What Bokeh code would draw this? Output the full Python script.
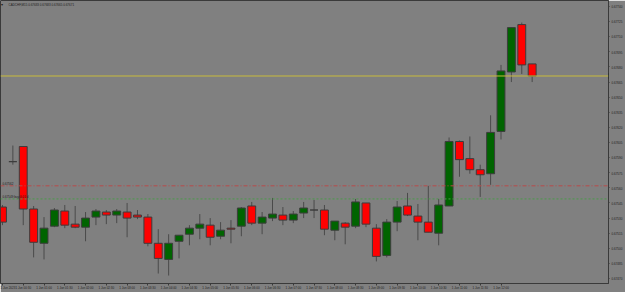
from bokeh.plotting import figure
from bokeh.models import FixedTicker, NumeralTickFormatter, Label, Span, ColumnDataSource, Range1d
from bokeh.embed import file_html
from bokeh.resources import INLINE

symbol = "CADCHF,M15"
bars = list(range(52))
open_ = [0.67541, 0.67586, 0.67601, 0.67539, 0.67505, 0.67522, 0.67537, 0.67524, 0.67521, 0.67531,
         0.67536, 0.67533, 0.67536, 0.67533, 0.67531, 0.67505, 0.67489, 0.67507, 0.67514, 0.67520,
         0.67523, 0.67512, 0.67520, 0.67522, 0.67542, 0.67525, 0.67530, 0.67533, 0.67528, 0.67535,
         0.67538, 0.67538, 0.67518, 0.67525, 0.67522, 0.67545, 0.67520, 0.67493, 0.67526, 0.67542,
         0.67532, 0.67526, 0.67515, 0.67542, 0.67606, 0.67589, 0.67578, 0.67574, 0.67616, 0.67675,
         0.67722, 0.67683]
high = [0.67543, 0.67602, 0.67601, 0.67542, 0.67531, 0.67540, 0.67543, 0.67542, 0.67536, 0.67539,
        0.67538, 0.67539, 0.67545, 0.67538, 0.67534, 0.67519, 0.67514, 0.67513, 0.67523, 0.67534,
        0.67530, 0.67526, 0.67528, 0.67541, 0.67546, 0.67536, 0.67550, 0.67541, 0.67537, 0.67546,
        0.67548, 0.67543, 0.67527, 0.67526, 0.67549, 0.67545, 0.67524, 0.67529, 0.67547, 0.67555,
        0.67544, 0.67562, 0.67549, 0.67610, 0.67607, 0.67611, 0.67583, 0.67632, 0.67682, 0.67719,
        0.67724, 0.67683]
low = [0.67523, 0.67583, 0.67523, 0.67491, 0.67489, 0.67521, 0.67520, 0.67520, 0.67507, 0.67523,
       0.67524, 0.67525, 0.67511, 0.67529, 0.67502, 0.67475, 0.67473, 0.67490, 0.67503, 0.67509,
       0.67503, 0.67509, 0.67505, 0.67512, 0.67523, 0.67514, 0.67527, 0.67523, 0.67525, 0.67530,
       0.67530, 0.67513, 0.67508, 0.67504, 0.67520, 0.67521, 0.67487, 0.67491, 0.67517, 0.67532,
       0.67508, 0.67516, 0.67503, 0.67542, 0.67571, 0.67574, 0.67551, 0.67563, 0.67608, 0.67665,
       0.67673, 0.67665]
close = [0.67526, 0.67586, 0.67539, 0.67506, 0.67520, 0.67538, 0.67523, 0.67521, 0.67530, 0.67537,
         0.67533, 0.67537, 0.67530, 0.67531, 0.67505, 0.67490, 0.67505, 0.67513, 0.67520, 0.67524,
         0.67511, 0.67518, 0.67519, 0.67540, 0.67525, 0.67531, 0.67534, 0.67528, 0.67534, 0.67540,
         0.67538, 0.67519, 0.67527, 0.67521, 0.67546, 0.67524, 0.67492, 0.67526, 0.67541, 0.67533,
         0.67526, 0.67516, 0.67543, 0.67606, 0.67588, 0.67578, 0.67573, 0.67615, 0.67676, 0.67719,
         0.67682, 0.67671]

price_ticks = [0.67470, 0.67485, 0.67500, 0.67515, 0.67530, 0.67545, 0.67560, 0.67575, 0.67590,
               0.67605, 0.67620, 0.67635, 0.67650, 0.67665, 0.67680, 0.67695, 0.67710, 0.67725, 0.67740]
time_ticks = [0, 2, 4, 6, 8, 10, 12, 14, 16, 18, 20, 22, 24, 26, 28, 30, 32, 34, 36, 38, 40, 42, 44, 46, 48]
time_labels = ["1 Jun 2023", "1 Jun 00:30", "1 Jun 01:00", "1 Jun 01:30", "1 Jun 02:00", "1 Jun 02:30",
               "1 Jun 03:00", "1 Jun 03:30", "1 Jun 04:00", "1 Jun 04:30", "1 Jun 05:00", "1 Jun 05:30",
               "1 Jun 06:00", "1 Jun 06:30", "1 Jun 07:00", "1 Jun 07:30", "1 Jun 08:00", "1 Jun 08:30",
               "1 Jun 09:00", "1 Jun 09:30", "1 Jun 10:00", "1 Jun 10:30", "1 Jun 11:00", "1 Jun 11:30",
               "1 Jun 12:00"]
stop_level = 0.67562
order_level = 0.67549
stop_text = "0.67562"
order_text = "0.67549 buy 0.01 sl"
bid = close[-1]

BG = "#808080"
TXT = "#1e1e1e"
FONT = "Liberation Sans"
FS = "3px"

p = figure(width=625, height=292, output_backend="svg", toolbar_location=None,
           x_range=Range1d(-0.19, 58.35), y_range=Range1d(0.674651, 0.677459),
           y_axis_location="right", min_border_left=0, min_border_top=0,
           min_border_right=0, min_border_bottom=0)
p.background_fill_color = BG
p.border_fill_color = BG
p.outline_line_color = "#3a3a3a"
p.xgrid.visible = False
p.ygrid.visible = False

ya = p.yaxis[0]
ya.ticker = FixedTicker(ticks=price_ticks)
ya.formatter = NumeralTickFormatter(format="0.00000")
ya.major_tick_out = 1
ya.major_tick_in = 0
ya.minor_tick_line_color = None
ya.major_label_standoff = 2
ya.axis_line_color = "#3a3a3a"
ya.major_tick_line_color = "#3a3a3a"
ya.major_label_text_font = FONT
ya.major_label_text_font_size = FS
ya.major_label_text_color = TXT

xa = p.xaxis[0]
xa.ticker = FixedTicker(ticks=time_ticks)
xa.major_label_overrides = {t: l for t, l in zip(time_ticks, time_labels)}
xa.major_label_text_align = "left"
xa.major_tick_out = 2
xa.major_tick_in = 0
xa.minor_tick_line_color = None
xa.major_label_standoff = 1
xa.axis_line_color = "#3a3a3a"
xa.major_tick_line_color = "#3a3a3a"
xa.major_label_text_font = FONT
xa.major_label_text_font_size = FS
xa.major_label_text_color = TXT

tops = [max(o, c) for o, c in zip(open_, close)]
bots = [min(o, c) for o, c in zip(open_, close)]
fills = ["#006400" if c >= o else "#ff0000" for o, c in zip(open_, close)]
src = ColumnDataSource(dict(x=bars, high=high, low=low, top=tops, bottom=bots, fill=fills))

p.segment(x0="x", y0="low", x1="x", y1="high", source=src, line_color="#4a4a4a", line_width=1)
p.vbar(x="x", width=0.76, top="top", bottom="bottom", source=src,
       fill_color="fill", line_color="#3c3c3c", line_width=1)

p.add_layout(Span(location=stop_level, dimension="width", line_color="#b84a4a",
                  line_dash="4 2 1 2", line_width=1))
p.add_layout(Span(location=order_level, dimension="width", line_color="#4a9a4a",
                  line_dash="2 2", line_width=1))
p.add_layout(Span(location=bid, dimension="width", line_color="#c8bc3c", line_width=1))

p.add_layout(Label(x=0.0, y=stop_level, text=stop_text, text_font=FONT, text_font_size=FS,
                   text_color=TXT, text_baseline="bottom", y_offset=1))
p.add_layout(Label(x=0.0, y=order_level, text=order_text, text_font=FONT, text_font_size=FS,
                   text_color=TXT, text_baseline="bottom", y_offset=1))

title_text = "%s  %.5f %.5f %.5f %.5f" % (symbol, open_[-1], high[-1], low[-1], close[-1])
p.add_layout(Label(x=0.58, y=0.677420, text=title_text, text_font=FONT, text_font_size=FS,
                   text_color=TXT, text_baseline="middle"))
p.add_layout(Label(x=-0.1, y=0.677420, text="\u25be", text_font=FONT, text_font_size="4px",
                   text_color=TXT, text_baseline="middle"))

p.add_layout(Label(x=58.37, y=bid, text="%.5f" % bid, text_font=FONT, text_font_size=FS,
                   text_color="#d0d0d0", text_baseline="middle",
                   background_fill_color="#1f5a1f", border_line_color="#2a2a2a",
                   padding=1))

open("out.html", "w").write(file_html(p, INLINE))
